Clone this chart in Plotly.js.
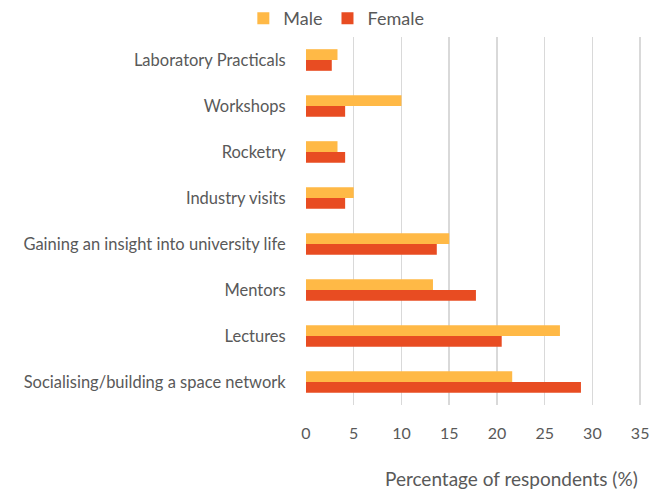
<!DOCTYPE html>
<html><head><meta charset="utf-8">
<script src="https://cdn.plot.ly/plotly-3.0.1.min.js"></script>
<style>html,body{margin:0;padding:0;background:#fff}#c{width:666px;height:490px}</style>
</head><body><div id="c"></div>
<script>
const categories = ["Laboratory Practicals","Workshops","Rocketry","Industry visits","Gaining an insight into university life","Mentors","Lectures","Socialising/building a space network"];
const male = [3.3, 10.0, 3.3, 5.0, 15.0, 13.3, 26.6, 21.6];
const female = [2.7, 4.1, 4.1, 4.1, 13.7, 17.8, 20.5, 28.8];
const xTicks = [0,5,10,15,20,25,30,35];

const fnt = "Lato, Open Sans, sans-serif";
const data = [
  {type:'bar', orientation:'h', name:'Male', x:male, y:categories, marker:{color:'#FFB946'}},
  {type:'bar', orientation:'h', name:'Female', x:female, y:categories, marker:{color:'#E84C22'}}
];
const layout = {
  width:666, height:490,
  margin:{l:306, r:23, t:34, b:85},
  paper_bgcolor:'#fff', plot_bgcolor:'#fff',
  font:{family:fnt, color:'#595959', size:15},
  barmode:'group', bargap:0.53, bargroupgap:0,
  showlegend:true,
  legend:{orientation:'h', xref:'container', yref:'container', x:0.505, xanchor:'center', y:1, yanchor:'top', font:{size:18, color:'#595959'}, itemwidth:20, traceorder:'normal', tracegroupgap:0},
  xaxis:{range:[0,35.3], tickvals:xTicks, ticktext:xTicks.map(String), showgrid:true, gridcolor:'#D9D9D9', gridwidth:1.5, zeroline:false, showline:false, ticks:'outside', ticklen:14, tickcolor:'rgba(0,0,0,0)', tickfont:{size:16, color:'#595959'}, fixedrange:true},
  yaxis:{autorange:'reversed', type:'category', showgrid:false, zeroline:false, showline:false, ticks:'outside', ticklen:16, tickcolor:'rgba(0,0,0,0)', tickfont:{size:16.5, color:'#595959'}},
  annotations:[{text:'Percentage of respondents (%)', xref:'paper', yref:'paper', x:0.61, y:0, yshift:-60, xanchor:'center', yanchor:'top', showarrow:false, font:{size:19, color:'#595959'}}]
};
Plotly.newPlot('c', data, layout, {displayModeBar:false, staticPlot:true});
</script></body></html>
